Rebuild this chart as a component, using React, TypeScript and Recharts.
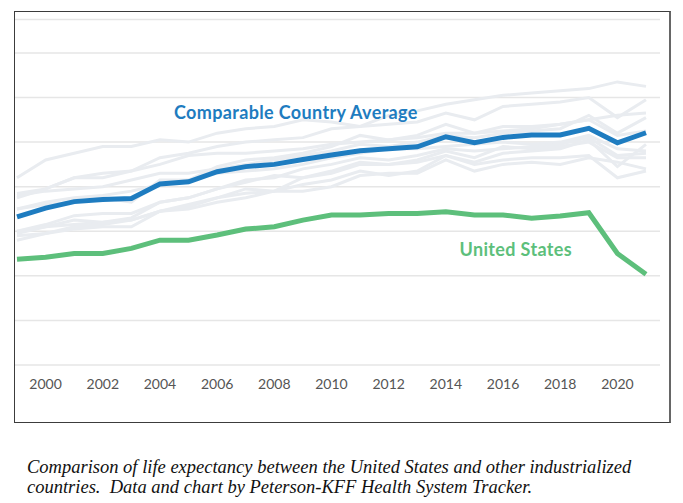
import React from "react"
import { LineChart, Line, XAxis, YAxis, CartesianGrid } from "recharts"

const years = [1999, 2000, 2001, 2002, 2003, 2004, 2005, 2006, 2007, 2008, 2009, 2010, 2011, 2012, 2013, 2014, 2015, 2016, 2017, 2018, 2019, 2020, 2021]

const unitedStates = [76.74, 76.83, 77.0, 77.0, 77.23, 77.6, 77.6, 77.83, 78.1, 78.2, 78.5, 78.73, 78.73, 78.8, 78.8, 78.88, 78.73, 78.73, 78.58, 78.68, 78.83, 77.0, 76.07]
const comparableAverage = [78.65, 79.04, 79.33, 79.43, 79.47, 80.12, 80.22, 80.67, 80.9, 81.0, 81.22, 81.42, 81.61, 81.7, 81.79, 82.24, 81.97, 82.21, 82.32, 82.32, 82.62, 81.97, 82.42]

// other comparable countries, drawn as faint background lines
const japan = [80.4, 81.2, 81.5, 81.8, 81.8, 82.1, 82.0, 82.4, 82.6, 82.7, 83.0, 82.9, 82.7, 83.2, 83.4, 83.7, 83.9, 84.1, 84.2, 84.3, 84.4, 84.7, 84.5]
const switzerland = [79.7, 79.9, 80.4, 80.6, 80.7, 81.3, 81.5, 81.8, 82.0, 82.1, 82.2, 82.6, 82.7, 82.8, 82.9, 83.3, 83.0, 83.6, 83.7, 83.8, 84.0, 83.1, 83.9]
const australia = [79.5, 79.9, 80.4, 80.4, 80.7, 81.0, 81.4, 81.5, 81.5, 81.6, 81.7, 81.9, 82.0, 82.1, 82.2, 82.4, 82.4, 82.5, 82.6, 82.8, 83.0, 83.2, 83.3]
const sweden = [79.6, 79.8, 79.9, 80.0, 80.3, 80.6, 80.6, 80.8, 81.0, 81.2, 81.4, 81.6, 81.9, 81.8, 82.0, 82.3, 82.2, 82.4, 82.5, 82.6, 83.2, 82.4, 83.1]
const france = [79.0, 79.2, 79.3, 79.5, 79.3, 80.3, 80.3, 80.9, 81.2, 81.3, 81.5, 81.8, 82.3, 82.1, 82.3, 82.8, 82.4, 82.7, 82.7, 82.8, 83.0, 82.3, 82.5]
const canada = [79.0, 79.3, 79.5, 79.6, 79.8, 80.1, 80.3, 80.6, 80.7, 80.8, 81.0, 81.3, 81.5, 81.7, 81.7, 81.8, 81.9, 82.0, 81.9, 82.0, 82.3, 81.7, 81.6]
const netherlands = [78.0, 78.2, 78.3, 78.4, 78.6, 79.3, 79.5, 79.9, 80.3, 80.4, 80.8, 81.0, 81.3, 81.2, 81.4, 81.7, 81.6, 81.7, 81.8, 81.9, 82.2, 81.4, 81.5]
const austria = [78.0, 78.3, 78.7, 78.8, 78.8, 79.3, 79.5, 79.9, 80.2, 80.5, 80.4, 80.7, 81.1, 81.0, 81.2, 81.6, 81.3, 81.8, 81.7, 81.8, 82.0, 81.3, 81.3]
const belgium = [77.8, 77.9, 78.1, 78.2, 78.2, 78.9, 79.1, 79.5, 79.9, 79.8, 80.1, 80.3, 80.7, 80.5, 80.7, 81.4, 81.1, 81.5, 81.6, 81.7, 82.1, 80.9, 81.9]
const germany = [77.9, 78.2, 78.5, 78.4, 78.5, 78.9, 79.0, 79.3, 79.5, 79.8, 79.8, 80.0, 80.5, 80.6, 80.6, 81.2, 80.7, 81.0, 81.1, 81.0, 81.3, 81.1, 80.8]
const unitedKingdom = [77.6, 77.9, 78.2, 78.3, 78.5, 78.9, 79.2, 79.5, 79.7, 79.8, 80.4, 80.6, 81.0, 81.0, 81.1, 81.4, 81.0, 81.2, 81.3, 81.3, 81.4, 80.4, 80.7]

const others: Record<string, number[]> = {
  japan, switzerland, australia, sweden, france, canada,
  netherlands, austria, belgium, germany, unitedKingdom,
}

const xTicks = [2000, 2002, 2004, 2006, 2008, 2010, 2012, 2014, 2016, 2018, 2020]
const yTicks = [72, 74, 76, 78, 80, 82, 84, 86]

const data = years.map((year, i) => {
  const row: Record<string, number> = { year, us: unitedStates[i], avg: comparableAverage[i] }
  Object.keys(others).forEach((k) => { row[k] = others[k][i] })
  return row
})

const BLUE = "#1e7cc0"
const GREEN = "#5dbf7b"
const FONT = "Lato, 'Open Sans', sans-serif"

export default function App() {
  return (
    <div style={{ position: "relative", width: 667, height: 490 }}>
      <div
        style={{
          position: "absolute", left: 6, top: 3, width: 654, height: 410,
          border: "1px solid #3c3c3c", borderRightWidth: 2, borderRightColor: "#666",
        }}
      >
        <LineChart width={654} height={410} data={data} margin={{ top: 7.5, right: 9, bottom: 0, left: 0 }}>
          <CartesianGrid vertical={false} stroke="#e6e6e6" strokeWidth={1.5} />
          <XAxis
            dataKey="year"
            type="number"
            domain={[1998.93, 2021.49]}
            ticks={xTicks}
            axisLine={false}
            tickLine={false}
            tickSize={0}
            tickMargin={14}
            height={57}
            tick={{ fill: "#555", fontSize: 14, fontFamily: FONT }}
          />
          <YAxis hide domain={[72, 87.5]} ticks={yTicks} />
          {Object.keys(others).map((k) => (
            <Line key={k} dataKey={k} stroke="#e9ecf0" strokeWidth={3} dot={false} isAnimationActive={false} />
          ))}
          <Line dataKey="avg" stroke={BLUE} strokeWidth={5} dot={false} isAnimationActive={false} />
          <Line dataKey="us" stroke={GREEN} strokeWidth={5} dot={false} isAnimationActive={false} />
        </LineChart>
        <svg width={654} height={410} style={{ position: "absolute", left: 0, top: 0, pointerEvents: "none" }}>
          <text x={159} y={106.5} fill={BLUE} fontFamily={FONT} fontWeight={700} fontSize={18} letterSpacing={0.35}>
            Comparable Country Average
          </text>
          <text x={444.5} y={244} fill={GREEN} fontFamily={FONT} fontWeight={700} fontSize={18} letterSpacing={0.35}>
            United States
          </text>
        </svg>
      </div>
      <div
        style={{
          position: "absolute", left: 19, top: 449, whiteSpace: "nowrap",
          fontFamily: "'Liberation Serif', Times, serif", fontStyle: "italic",
          fontSize: 18.5, lineHeight: "20px", color: "#111",
        }}
      >
        Comparison of life expectancy between the United States and other industrialized
        <br />
        countries.&nbsp; Data and chart by Peterson-KFF Health System Tracker.
      </div>
    </div>
  )
}
